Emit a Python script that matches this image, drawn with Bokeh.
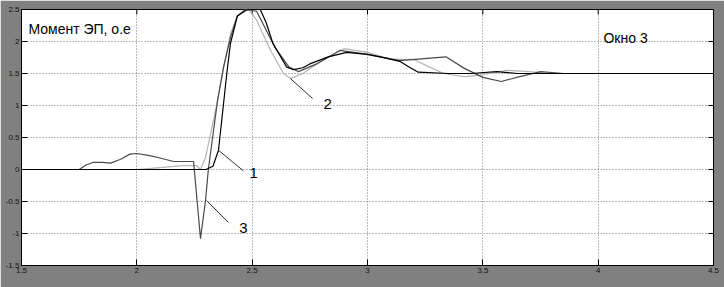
import math
from bokeh.plotting import figure
from bokeh.embed import file_html
from bokeh.resources import INLINE
from bokeh.models import FixedTicker, CustomJSTickFormatter, Range1d
from bokeh.core.properties import value

# ---- data ----
x1 = [1.5, 2.30, 2.33, 2.354, 2.375, 2.39, 2.406, 2.436, 2.47, 2.49, 2.535, 2.56, 2.59, 2.65, 2.68,
      2.72, 2.75, 2.83, 2.91, 3.0, 3.08, 3.14, 3.18, 3.22, 3.35, 3.45, 3.56, 3.65, 3.8, 4.0, 4.5]
y1 = [0.0, 0.0, 0.05, 0.30, 1.0, 1.5, 1.97, 2.40, 2.49, 2.5, 2.5, 2.3, 1.97, 1.6, 1.56,
      1.59, 1.65, 1.76, 1.83, 1.80, 1.74, 1.69, 1.60, 1.52, 1.50, 1.50, 1.53, 1.50, 1.50, 1.50, 1.50]

x2 = [1.5, 2.0, 2.1, 2.2, 2.26, 2.276, 2.298, 2.32, 2.35, 2.376, 2.406, 2.436, 2.47, 2.49, 2.52,
      2.58, 2.636, 2.666, 2.72, 2.8, 2.9, 3.0, 3.1, 3.2, 3.27, 3.33, 3.42, 3.5, 3.6, 3.7, 3.8, 4.5]
y2 = [0.0, 0.0, 0.03, 0.06, 0.06, 0.0, 0.19, 0.56, 1.08, 1.6, 2.12, 2.40, 2.5, 2.48, 2.33,
      1.86, 1.50, 1.42, 1.50, 1.70, 1.89, 1.83, 1.72, 1.72, 1.60, 1.50, 1.45, 1.48, 1.55, 1.53, 1.50, 1.50]

x3 = [1.5, 1.75, 1.78, 1.81, 1.85, 1.886, 1.93, 1.97, 2.0, 2.05, 2.1, 2.16, 2.246, 2.276, 2.298,
      2.31, 2.35, 2.376, 2.406, 2.436, 2.48, 2.52, 2.6, 2.66, 2.70, 2.78, 2.88, 3.0, 3.14, 3.34,
      3.42, 3.5, 3.58, 3.66, 3.75, 3.85, 4.5]
y3 = [0.0, 0.0, 0.07, 0.11, 0.11, 0.10, 0.16, 0.24, 0.25, 0.22, 0.18, 0.125, 0.125, -1.08, -0.48,
      0.0, 1.08, 1.6, 2.06, 2.40, 2.5, 2.47, 1.9, 1.6, 1.53, 1.65, 1.86, 1.80, 1.70, 1.76,
      1.58, 1.44, 1.375, 1.45, 1.53, 1.50, 1.50]

x_ticks = [1.5, 2.0, 2.5, 3.0, 3.5, 4.0, 4.5]
y_ticks = [-1.5, -1.0, -0.5, 0.0, 0.5, 1.0, 1.5, 2.0, 2.5]

# curve labels: pointer start (on curve), pointer end, label position
lbl_text = ["1", "2", "3"]
ptr_x0 = [2.354, 2.666, 2.302]
ptr_y0 = [0.30, 1.42, -0.484]
ptr_x1 = [2.462, 2.762, 2.397]
ptr_y1 = [-0.02, 1.11, -0.828]
lbl_x = [2.506, 2.827, 2.462]
lbl_y = [-0.06, 1.03, -0.92]

title_text = ["Момент ЭП, о.е"]
title_x = [1.53]
title_y = [2.20]
window_text = ["Окно 3"]
window_x = [4.023]
window_y = [2.06]

BG = "#808080"
FONT = "Liberation Sans"
X0, X1 = x_ticks[0], x_ticks[-1]
Y0, Y1 = y_ticks[0], y_ticks[-1]

p = figure(width=724, height=287, output_backend="svg", toolbar_location=None,
           x_range=Range1d(X0, X1), y_range=Range1d(Y0, Y1),
           min_border_left=21, min_border_right=11, min_border_top=9, min_border_bottom=22)
p.border_fill_color = BG
p.background_fill_color = "white"
p.outline_line_color = "black"
p.outline_line_width = 1

fmt = CustomJSTickFormatter(code="return String(tick)")
for ax in (p.xaxis[0], p.yaxis[0]):
    ax.major_label_text_font_size = "8px"
    ax.major_label_text_font = FONT
    ax.major_label_text_color = "#111111"
    ax.major_tick_in = 6
    ax.major_tick_out = 0
    ax.minor_tick_in = 0
    ax.minor_tick_out = 0
    ax.major_label_standoff = 2
    ax.axis_line_color = "black"
    ax.formatter = fmt
p.xaxis[0].ticker = FixedTicker(ticks=x_ticks)
p.yaxis[0].ticker = FixedTicker(ticks=y_ticks)

p.xgrid.ticker = FixedTicker(ticks=x_ticks)
p.ygrid.ticker = FixedTicker(ticks=y_ticks)
for g in (p.xgrid[0], p.ygrid[0]):
    g.grid_line_color = "#777777"
    g.grid_line_dash = "1 2"
    g.grid_line_width = 1

# inward ticks on top and right edges (box style)
p.ray(x=x_ticks, y=[Y1] * len(x_ticks), length=5, length_units="screen",
      angle=-math.pi / 2, line_color="black", line_width=1)
p.ray(x=[X1] * len(y_ticks), y=y_ticks, length=5, length_units="screen",
      angle=math.pi, line_color="black", line_width=1)

p.line(x2, y2, line_color="#b4b4b4", line_width=1.2)
p.line(x3, y3, line_color="#4a4a4a", line_width=1.2)
p.line(x1, y1, line_color="#000000", line_width=1.2)

p.segment(ptr_x0, ptr_y0, ptr_x1, ptr_y1, line_color="#333333", line_width=1)
p.text(lbl_x, lbl_y, text=lbl_text, text_font=value(FONT), text_font_size="15px",
       text_align="center", text_baseline="middle", text_color="black")

p.text(title_x, title_y, text=title_text, text_font=value(FONT), text_font_size="14px",
       text_align="left", text_baseline="middle", text_color="black")
p.text(window_x, window_y, text=window_text, text_font=value(FONT), text_font_size="14px",
       text_align="left", text_baseline="middle", text_color="black")

html = file_html(p, INLINE)
html = html.replace("<body>", '<body style="background:%s">' % BG, 1)
open("out.html", "w").write(html)
